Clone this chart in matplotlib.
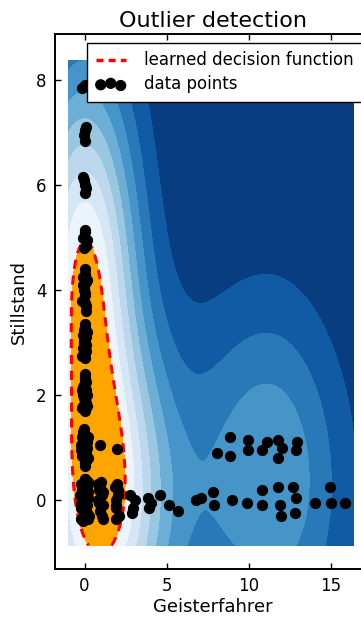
import numpy as np
import matplotlib.pyplot as plt
from matplotlib.lines import Line2D

# column of points at Geisterfahrer ~ 0 (clusters at Stillstand 0..8)
col_x = [-0.2, 0.1, -0.1, 0.2, 0.0, -0.15, 0.15, 0.05, -0.05, 0.2, -0.2, 0.1,
         -0.1, 0.0, 0.15, -0.15, 0.05, -0.05, 0.25, -0.25, 0.0, 0.1, -0.1, 0.2,
         -0.2, 0.05, -0.05, 0.15, -0.15, 0.0, 0.1, -0.1, 0.2, -0.2, 0.05, -0.05,
         -0.1, 0.1, 0.0, -0.2, 0.2, 0.05, -0.05, 0.15, -0.15, 0.0, 0.1,
         -0.1, 0.05, -0.05, 0.0, 0.15, -0.15, 0.1, -0.1, 0.2, -0.2, 0.0,
         0.0, -0.1, 0.1, 0.05, -0.05, 0.15, -0.15, 0.0, 0.1,
         -0.1, 0.05, 0.0, -0.05, 0.1, -0.1, 0.15, 0.0, -0.15,
         -0.05, 0.05, 0.1, -0.1, 0.0, 0.15, -0.15, 0.0,
         0.05, -0.05, 0.1, -0.1, 0.0, 0.05, -0.05, 0.1,
         0.0, 0.1, -0.1, 0.05, -0.05, 0.15, -0.15,
         0.0, 0.1, -0.05, 0.05, -0.1, 0.0, 0.1,
         0.0, 0.1, -0.1, 0.15, 0.05, -0.05,
         -0.05, 0.05, 0.0, 0.1, -0.1,
         0.0, 0.05, -0.05, 0.1,
         -0.15, 0.0]
col_y = [0.3, -0.2, 0.1, -0.35, 0.4, -0.05, 0.25, -0.3, 0.15, 0.05, -0.15, 0.35,
         -0.4, -0.1, -0.25, 0.2, 0.0, 0.3, -0.3, 0.1, -0.2, 0.0, 0.25, 0.15,
         -0.35, 0.4, -0.25, -0.1, 0.3, 0.1, -0.3, 0.0, 0.35, -0.05, 0.2, -0.15,
         1.3, 0.8, 1.1, 0.95, 1.2, 0.7, 1.35, 1.0, 0.85, 1.15, 0.75,
         1.25, 1.05, 0.9, 0.65, 1.1, 1.2, 0.9, 1.0, 0.8, 1.05, 1.25,
         2.3, 1.8, 2.1, 1.9, 2.2, 2.0, 1.75, 2.4, 1.85,
         2.15, 2.05, 2.35, 1.95, 2.25, 2.0, 1.8, 1.7, 2.1,
         3.25, 2.8, 3.1, 2.9, 3.0, 3.2, 2.75, 3.35,
         2.95, 3.05, 2.85, 3.15, 2.7, 3.3, 3.0, 2.95,
         4.3, 3.7, 4.1, 3.9, 4.0, 4.2, 3.8,
         4.4, 3.6, 4.05, 3.75, 4.25, 3.95, 4.15,
         5.1, 4.85, 5.0, 4.95, 5.15, 4.8,
         6.1, 5.85, 6.0, 5.95, 6.15,
         7.05, 6.85, 6.95, 7.1,
         7.85, 7.9]

# row of points at Stillstand ~ 0
row0_x = [0.85, 0.95, 1.05, 1.15, 0.9, 1.1, 1.0, 0.8, 1.05, 0.95, 1.1, 0.9,
          1.85, 1.95, 2.05, 2.1, 1.9, 2.0, 1.95, 2.05, 1.9,
          2.8, 2.95, 3.05, 2.9,
          3.85, 3.95, 4.05,
          4.6, 5.15, 5.7,
          6.8, 7.1, 7.85, 7.9, 9.0, 9.9, 10.8, 10.8,
          11.8, 11.9, 12.0, 12.7, 12.9, 12.85, 14.05, 14.95, 15.0, 15.9]
row0_y = [0.3, -0.2, 0.1, -0.35, 0.2, -0.1, 0.35, 0.0, -0.3, 0.25, 0.15, -0.05,
          0.25, -0.15, 0.1, -0.3, 0.0, 0.3, -0.35, 0.2, -0.1,
          0.1, -0.15, 0.0, -0.25,
          0.05, -0.15, -0.05,
          0.1, -0.1, -0.2,
          0.0, 0.05, 0.15, -0.1, 0.0, -0.05, 0.2, -0.1,
          0.25, -0.1, -0.3, 0.25, 0.05, -0.25, -0.05, 0.25, -0.05, -0.05]

# row of points at Stillstand ~ 1
row1_x = [0.95, 2.0, 8.05, 8.85, 8.9, 9.95, 9.95, 10.8, 11.1, 11.8, 11.8, 12.05, 12.95, 12.9]
row1_y = [1.05, 0.97, 0.9, 0.85, 1.2, 1.15, 0.95, 0.95, 1.1, 1.15, 0.8, 1.0, 1.1, 0.95]

# tip of the learned inlier region
tip_x, tip_y = 0.25, 4.9

px = np.array(col_x + row0_x + row1_x)
py = np.array(col_y + row0_y + row1_y)
gamma = 0.1
nu = 0.3
# overplotted points in the dense blobs (column up to 4.5, row up to 2.5) count more
w = np.where(((px < 0.5) & (py < 4.5)) | ((px < 2.5) & (py < 1.5)), 3.0, 1.0)


def rbf(ax_, ay_, bx, by):
    return np.exp(-gamma * ((ax_[:, None] - bx[None, :]) ** 2 + (ay_[:, None] - by[None, :]) ** 2))


# weighted one-class svm, projected gradient on the capped simplex
C = w / (nu * w.sum())
K = rbf(px, py, px, py)
step = 1.0 / np.linalg.eigvalsh(K).max()
alpha = w / w.sum()
for _ in range(5000):
    v = alpha - step * K @ alpha
    lo, hi = (v - C).min(), v.max()
    for _ in range(60):
        tau = (lo + hi) / 2
        if np.clip(v - tau, 0, C).sum() > 1:
            lo = tau
        else:
            hi = tau
    alpha = np.clip(v - tau, 0, C)

# offset so that the 0-level passes through the tip
rho = (rbf(np.array([tip_x]), np.array([tip_y]), px, py) @ alpha)[0]

xx, yy = np.meshgrid(np.linspace(-1.0, 16.4, 300), np.linspace(-0.86, 8.37, 300))
Z = (rbf(xx.ravel(), yy.ravel(), px, py) @ alpha - rho).reshape(xx.shape)

fig = plt.figure(figsize=(3.61, 6.18), dpi=100)
ax = fig.add_axes([55 / 361, 1 - 569 / 618, 316.5 / 361, 535 / 618])

ax.contourf(xx, yy, Z, levels=np.linspace(Z.min(), 0, 10), cmap=plt.cm.Blues_r)
ax.contourf(xx, yy, Z, levels=[0, Z.max()], colors='orange')
ax.contour(xx, yy, Z, levels=[0], colors='red', linewidths=2.2,
           linestyles=[(0, (3, 2.2))])
pts = ax.scatter(px, py, c='black', s=50, zorder=3)

ax.set_xlim(-1.8, 17.5)
ax.set_ylim(-1.31, 8.88)
ax.set_xticks([0, 5, 10, 15])
ax.set_yticks([0, 2, 4, 6, 8])
ax.tick_params(direction='in', top=True, right=True, length=4, width=1,
               labelsize=12, pad=6)
for s in ax.spines.values():
    s.set_linewidth(1.4)

ax.set_title('Outlier detection', fontsize=16, pad=5)
ax.set_xlabel('Geisterfahrer', fontsize=13, labelpad=2)
ax.set_ylabel('Stillstand', fontsize=13, labelpad=6)

line = Line2D([], [], color='red', lw=2.5, ls=(0, (2, 1.5)))
leg = ax.legend([line, pts], ['learned decision function', 'data points'],
                loc='upper right', bbox_to_anchor=(362 / 361, 1 - 43 / 618),
                bbox_transform=fig.transFigure, borderaxespad=0,
                fancybox=False, edgecolor='black', framealpha=1, fontsize=12,
                scatterpoints=3, handlelength=1.8, handletextpad=1.1,
                borderpad=0.5, labelspacing=0.35)
leg.get_frame().set_linewidth(1.0)

fig.savefig('out.png', dpi=100)
